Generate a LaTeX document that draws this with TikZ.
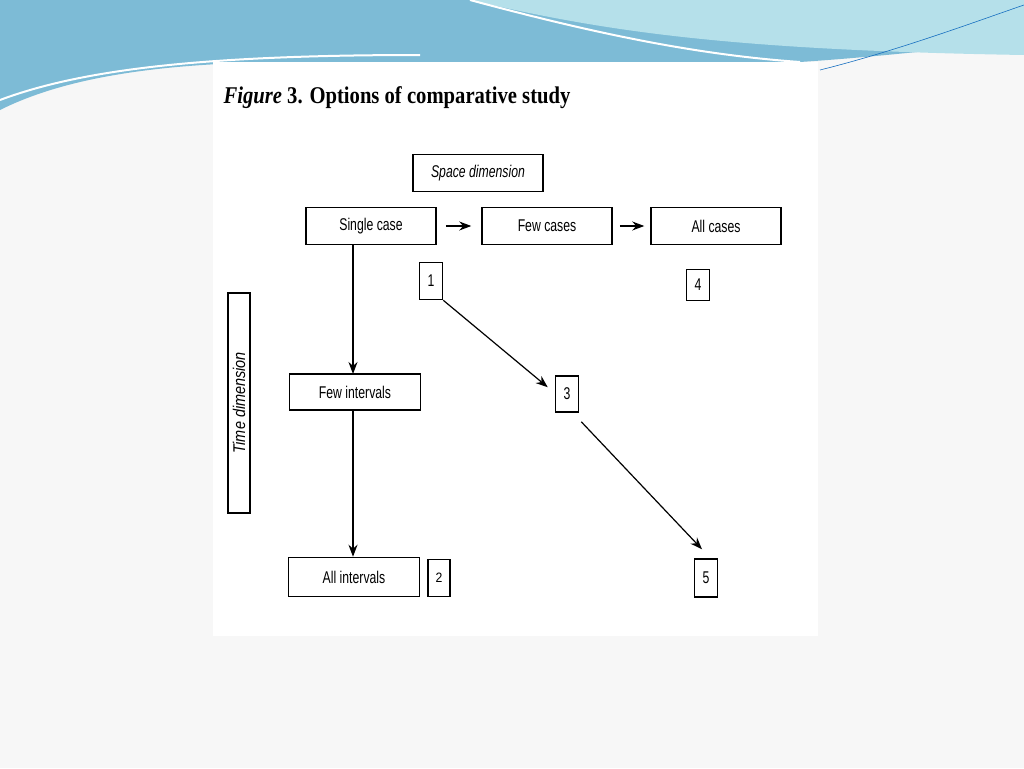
\documentclass[tikz,border=0pt]{standalone}
\usepackage{fontspec}
\setmainfont{Liberation Serif}
\setsansfont{Liberation Sans}
\usetikzlibrary{arrows.meta}
\definecolor{wave}{HTML}{7DBBD6}
\definecolor{wavelight}{HTML}{B5E0EA}
\begin{document}
\begin{tikzpicture}[x=1pt,y=-1pt,
  box/.style={draw,line width=1.5pt,inner sep=0pt,font=\sffamily\fontsize{17}{20}\selectfont},
  link/.style={->,>={Stealth[length=12pt,width=9pt]},line width=1.2pt}]
% background and panel
\fill[gray!6] (0,0) rectangle (1024,768);
\useasboundingbox (0,0) rectangle (1024,768);
\fill[wave] (0,0) -- (1024,0) -- (1024,40) .. controls (900,55) and (830,60) .. (800,62)
  -- (300,62) .. controls (150,62) and (60,80) .. (0,110) -- cycle;
\fill[wavelight] (470,0) .. controls (600,30) and (720,50) .. (1024,55) -- (1024,0) -- cycle;
\draw[white,line width=2pt] (0,100) .. controls (80,70) and (200,55) .. (420,55);
\draw[white,line width=2pt] (470,0) .. controls (600,35) and (700,55) .. (800,62);
\draw[cyan!50!blue,line width=0.6pt] (820,70) .. controls (900,50) and (980,20) .. (1024,5);
\fill[white] (213,62) rectangle (818,636);
% title
\node[anchor=west,font=\bfseries\fontsize{24}{26}\selectfont] (title) at (220,98)
  {\scalebox{0.86}[1]{\textit{Figure} 3. Options of comparative study}};
% boxes
\node[box,minimum width=130,minimum height=37] (space) at (478,173) {\itshape\scalebox{0.72}[1]{Space dimension}};
\node[box,minimum width=130,minimum height=37] (single) at (371,226) {\scalebox{0.72}[1]{Single case}};
\node[box,minimum width=130,minimum height=37] (few) at (547,226) {\scalebox{0.72}[1]{Few cases}};
\node[box,minimum width=130,minimum height=37] (all) at (716,226) {\scalebox{0.72}[1]{All cases}};
\node[box,minimum width=23,minimum height=37] (n1) at (431,281) {\scalebox{0.72}[1]{1}};
\node[box,minimum width=23,minimum height=31] (n4) at (698,285) {\scalebox{0.72}[1]{4}};
\node[box,minimum width=22,minimum height=220] (time) at (239,403) {};
\node[rotate=90,font=\sffamily\fontsize{17}{20}\selectfont\itshape] (timet) at (239,403) {\scalebox{0.85}[1]{Time dimension}};
\node[box,minimum width=131,minimum height=36] (fint) at (355,392) {\scalebox{0.72}[1]{Few intervals}};
\node[box,minimum width=23,minimum height=36] (n3) at (567,394) {\scalebox{0.72}[1]{3}};
\node[box,minimum width=131,minimum height=39] (aint) at (354,577) {\scalebox{0.72}[1]{All intervals}};
\node[box,minimum width=22,minimum height=37] (n2) at (439,578) {\scalebox{0.72}[0.8]{2}};
\node[box,minimum width=23,minimum height=38] (n5) at (706,578) {\scalebox{0.72}[1]{5}};
% connectors
\draw[link] ([xshift=9]single.east) -- ([xshift=-10]few.west);
\draw[link] ([xshift=7]few.east) -- ([xshift=-6]all.west);
\draw[link] (single.south -| 353,0) -- (353,374);
\draw[link] (353,410) -- (aint.north -| 353,0);
\draw[link] (n1.south east) -- ([xshift=-7,yshift=-12]n3.north west);
\draw[link] ([xshift=2,yshift=-9]n3.south east) -- ([xshift=-4,yshift=9]n5.north);
\end{tikzpicture}
\end{document}
